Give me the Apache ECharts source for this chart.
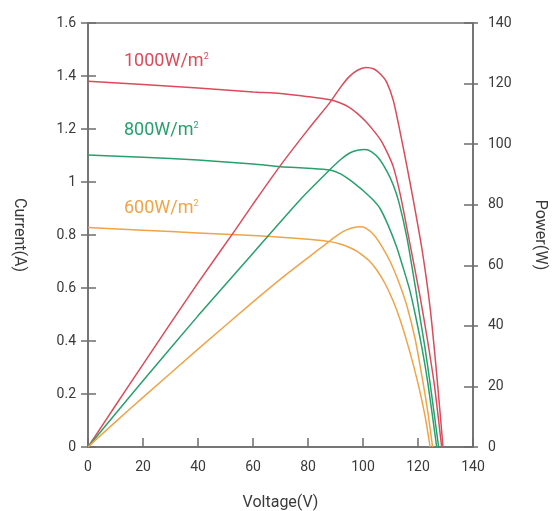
<!DOCTYPE html>
<html>
<head>
<meta charset="utf-8">
<script src="https://cdn.jsdelivr.net/npm/echarts@6/dist/echarts.min.js"></script>
<style>
html,body{margin:0;padding:0;background:#fff;}
#chart{width:553px;height:511px;}
</style>
</head>
<body>
<div id="chart"></div>
<script>
// ---- data ----
const xTicks = [0, 20, 40, 60, 80, 100, 120, 140];
const currentTicks = [0, 0.2, 0.4, 0.6, 0.8, 1, 1.2, 1.4, 1.6];
const powerTicks = [0, 20, 40, 60, 80, 100, 120, 140];
const seriesNames = ['1000W/m²', '800W/m²', '600W/m²'];

// I-V curves (voltage V, current A)
const redIV_V = [0, 20, 40, 60, 70, 80, 88, 92, 95, 98, 101, 104, 106.5, 109, 111, 113.5, 117, 120.7, 123.5, 126, 128.6];
const redIV_I = [1.38, 1.368, 1.355, 1.34, 1.334, 1.322, 1.31, 1.297, 1.282, 1.258, 1.228, 1.192, 1.157, 1.107, 1.058, 0.955, 0.77, 0.57, 0.40, 0.23, 0];
const greenIV_V = [0, 20, 40, 60, 70, 80, 88, 92, 95.3, 98, 100, 103.7, 106.2, 109, 112.2, 114.5, 117, 119, 121.5, 123.6, 126.8];
const greenIV_I = [1.102, 1.093, 1.083, 1.068, 1.058, 1.052, 1.045, 1.03, 1.007, 0.985, 0.968, 0.932, 0.9, 0.84, 0.756, 0.68, 0.592, 0.5, 0.37, 0.24, 0];
const orangeIV_V = [0, 20, 40, 60, 72.7, 80, 88, 92, 95.3, 98, 100, 102.5, 105, 108, 111, 113.5, 117, 120, 122.5, 124.4];
const orangeIV_I = [0.828, 0.818, 0.808, 0.798, 0.79, 0.784, 0.775, 0.765, 0.752, 0.737, 0.722, 0.70, 0.668, 0.617, 0.55, 0.48, 0.36, 0.24, 0.12, 0];

// P-V curves (voltage V, power W)
const redPV_V = [0, 10, 20, 30, 40, 53.5, 60, 70, 80, 88, 92, 95, 98, 101, 104, 106.5, 108.6, 111, 113.5, 115.9, 118.3, 121.5, 124.4, 126.8, 129.1];
const redPV_P = [0, 13.7, 27.3, 40.8, 54.2, 71.6, 80.2, 93.0, 104.8, 113.8, 119, 122.3, 124.4, 125.3, 124.8, 123, 120.5, 114.5, 104, 93, 81.5, 65, 46, 24, 0];
const greenPV_V = [0, 10, 20, 40, 60, 77, 88, 92, 95, 98, 100.7, 103, 106, 109, 111, 113, 116, 119, 120.7, 122.5, 124.4, 127.5];
const greenPV_P = [0, 11, 21.9, 43.3, 64, 81.5, 91.6, 95, 97, 98, 98.2, 97.5, 95, 90.5, 86.5, 81, 69, 53, 43, 33, 21, 0];
const orangePV_V = [0, 10, 20, 40, 60, 72.7, 85, 90, 94, 98.9, 101, 104, 107, 110, 113, 116, 119, 121.5, 123.5, 125.3];
const orangePV_P = [0, 8.3, 16.4, 32.3, 47.9, 57.4, 66, 69.5, 71.7, 72.7, 72.3, 70, 66, 61, 54.5, 46.5, 35.5, 23, 12, 0];

const colors = ['#dc4b5a', '#28a06c', '#f0a448'];

function pairs(xs, ys) { return xs.map((x, i) => [x, ys[i]]); }

const chart = echarts.init(document.getElementById('chart'));
const axisColor = '#6e6e6e';
const labelStyle = { color: '#3a3a3a', fontSize: 14, fontFamily: 'Roboto, sans-serif' };
const nameStyle = { color: '#3a3a3a', fontSize: 16, fontFamily: 'Roboto, sans-serif' };

function line(name, data, color, yIndex) {
  return {
    name: name, type: 'line', data: data, xAxisIndex: 0, yAxisIndex: yIndex,
    showSymbol: false, smooth: 0.25,
    lineStyle: { color: color, width: 1.5 }, itemStyle: { color: color },
    silent: true, z: 3
  };
}

function rich(txt, color) {
  return {
    type: 'text',
    style: {
      text: '{a|' + txt + '}{s|2}',
      rich: {
        a: { fontSize: 18, fill: color, color: color, fontFamily: 'Roboto, sans-serif' },
        s: { fontSize: 9, fill: color, color: color, verticalAlign: 'top', padding: [0, 0, 9, 0], fontFamily: 'Roboto, sans-serif' }
      }
    }
  };
}

const lbl1 = rich('1000W/m', colors[0]); lbl1.left = 124; lbl1.top = 52;
const lbl2 = rich('800W/m', colors[1]); lbl2.left = 124; lbl2.top = 121;
const lbl3 = rich('600W/m', colors[2]); lbl3.left = 124; lbl3.top = 199;

chart.setOption({
  animation: false,
  backgroundColor: '#fff',
  grid: { left: 88, right: 80, top: 23, bottom: 64, show: true, borderColor: axisColor, borderWidth: 1.5, containLabel: false, outerBoundsMode: 'none' },
  xAxis: [{
    type: 'value', min: xTicks[0], max: xTicks[xTicks.length - 1], interval: 20,
    name: 'Voltage(V)', nameLocation: 'middle', nameGap: 48,
    nameTextStyle: nameStyle,
    axisLine: { show: true, lineStyle: { color: axisColor, width: 1.5 } },
    axisTick: { show: true, inside: true, length: 9, lineStyle: { color: axisColor, width: 1.5 } },
    axisLabel: Object.assign({ margin: 13 }, labelStyle),
    splitLine: { show: false }
  }],
  yAxis: [{
    type: 'value', position: 'left', min: currentTicks[0], max: currentTicks[currentTicks.length - 1], interval: 0.2,
    name: 'Current(A)', nameLocation: 'middle', nameGap: 61, nameRotate: -90,
    nameTextStyle: nameStyle,
    axisLine: { show: true, lineStyle: { color: axisColor, width: 1.5 } },
    axisTick: { show: true, inside: false, length: 7, lineStyle: { color: axisColor, width: 1.5 } },
    axisLabel: Object.assign({ margin: 12 }, labelStyle),
    splitLine: { show: false }
  }, {
    type: 'value', position: 'right', min: powerTicks[0], max: powerTicks[powerTicks.length - 1], interval: 20,
    name: 'Power(W)', nameLocation: 'middle', nameGap: 59, nameRotate: -90,
    nameTextStyle: nameStyle,
    axisLine: { show: true, lineStyle: { color: axisColor, width: 1.5 } },
    axisTick: { show: true, inside: false, length: 5, lineStyle: { color: axisColor, width: 1.5 } },
    axisLabel: Object.assign({ margin: 15 }, labelStyle),
    splitLine: { show: false }
  }, {
    type: 'value', position: 'left', min: 0, max: 1.6, interval: 0.2,
    axisLine: { show: false }, axisLabel: { show: false }, splitLine: { show: false },
    axisTick: { show: true, inside: true, length: 8, lineStyle: { color: axisColor, width: 1.5 } }
  }, {
    type: 'value', position: 'right', min: 0, max: 140, interval: 20,
    axisLine: { show: false }, axisLabel: { show: false }, splitLine: { show: false },
    axisTick: { show: true, inside: true, length: 9, lineStyle: { color: axisColor, width: 1.5 } }
  }],
  graphic: [lbl1, lbl2, lbl3],
  series: [
    line(seriesNames[0] + ' I', pairs(redIV_V, redIV_I), colors[0], 0),
    line(seriesNames[1] + ' I', pairs(greenIV_V, greenIV_I), colors[1], 0),
    line(seriesNames[2] + ' I', pairs(orangeIV_V, orangeIV_I), colors[2], 0),
    line(seriesNames[0] + ' P', pairs(redPV_V, redPV_P), colors[0], 1),
    line(seriesNames[1] + ' P', pairs(greenPV_V, greenPV_P), colors[1], 1),
    line(seriesNames[2] + ' P', pairs(orangePV_V, orangePV_P), colors[2], 1)
  ]
});
</script>
</body>
</html>
